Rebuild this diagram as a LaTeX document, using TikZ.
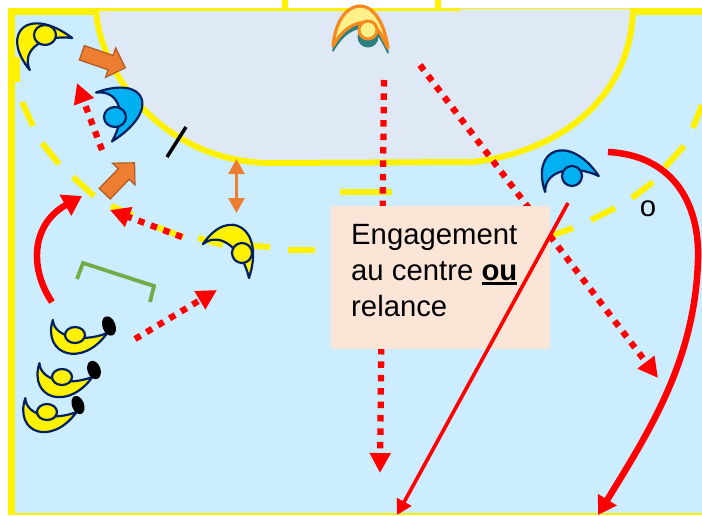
\documentclass[tikz,border=0pt]{standalone}
\usepackage{fontspec}
\setmainfont{Liberation Sans}
\usetikzlibrary{shapes,arrows.meta}
\definecolor{courtBlue}{HTML}{CCECFF}
\definecolor{areaBlue}{HTML}{DEE9F5}
\definecolor{navyLine}{HTML}{002060}
\definecolor{playerBlue}{HTML}{00B0F0}
\definecolor{keeperOrange}{HTML}{F58A1F}
\definecolor{keeperYellow}{HTML}{FFF08A}
\definecolor{keeperTeal}{HTML}{2A7F80}
\definecolor{moveOrange}{HTML}{ED7D31}
\definecolor{moveEdge}{HTML}{AE5A21}
\definecolor{boxPeach}{HTML}{FBE5D6}
\definecolor{markGreen}{HTML}{70AD47}
\tikzstyle{courtLine} = [draw=yellow, line width=6pt]
\tikzstyle{yellowPlayer} = [draw=navyLine, fill=yellow, line width=2.2pt, line join=round]
\tikzstyle{bluePlayer} = [draw=navyLine, fill=playerBlue, line width=2.2pt, line join=round]
\tikzstyle{keeperBody} = [draw=keeperOrange, fill=keeperYellow, line width=3.2pt, line join=round]
\tikzstyle{keeperShade} = [draw=keeperTeal, fill=keeperTeal, line width=1.5pt, line join=round]
\tikzstyle{ballMark} = [fill=black]
\tikzstyle{moveArrow} = [single arrow, draw=moveEdge, fill=moveOrange, line width=1.2pt, inner xsep=0pt, inner ysep=7pt, single arrow head extend=8pt]
\tikzstyle{passArrow} = [draw=red, line width=6.3pt, dash pattern=on 6.5pt off 6.9pt, -{Triangle[width=20pt,length=20pt]}]
\tikzstyle{runArrow} = [draw=red, line width=6.5pt, -{Triangle[width=23pt,length=19pt]}]
\tikzstyle{shotArrow} = [draw=red, line width=3.6pt, -{Triangle[width=16pt,length=15pt]}]
\tikzstyle{textNode} = [font=\fontsize{29.3}{36}\selectfont, text=black]
\newcommand{\player}[5]{
\draw[#1, #2] (-28,0) .. controls (-30,-46) and (12,-50) .. (28,0) .. controls (8,-18) and (-22,-22) .. (-28,0) -- cycle;
\draw[#1] #3 ellipse [x radius=#4pt, y radius=#5pt];
}
\newcommand{\keeper}[1]{
\draw[#1] (333,46) .. controls (336,16) and (350,6) .. (360,6) .. controls (375,6) and (385,26) .. (388,48) .. controls (382,36) and (378,27) .. (370,23) .. controls (355,20) and (342,30) .. (333,46) -- cycle;
}
\newcommand{\thickUnder}[1]{\leavevmode\vtop{\hbox{#1}\kern1.5pt\hrule height 3pt}}

\begin{document}
\begin{tikzpicture}[x=1pt, y=-1pt]
\useasboundingbox (0,0) rectangle (702,515);
\fill[courtBlue] (8,8) rectangle (702,515);
\filldraw[courtLine, fill=areaBlue] (96,8) .. controls (98,70) and (160,160) .. (267,163) -- (473,162) .. controls (570,150) and (632,90) .. (633,8);
\draw[courtLine, line width=7pt] (11.5,8) -- (11.5,515);
\draw[courtLine, line width=7pt] (8,11.5) -- (96,11.5);
\draw[courtLine, line width=7pt] (633,11.5) -- (702,11.5);
\draw[courtLine, line width=3pt] (96,9.5) -- (460,9.5);
\draw[courtLine, line width=1pt] (460,8.5) -- (633,8.5);
\draw[courtLine, line width=2.5pt] (8,514) -- (702,514);
\draw[courtLine] (284.5,0) -- (284.5,9);
\draw[courtLine] (438,0) -- (438,9);
\draw[courtLine] (17,57) -- (17,82);
\draw[courtLine] (340,192) -- (392,192);
\foreach \ax/\ay/\bx/\by in {22/102/33/126, 42/143/59/164, 73/177/94/196, 111/206/133/215, 157/227/183/237, 198/238/223/245, 243/245/270/247, 288/250/315/250, 553/235/573/228, 591/220/615/208, 632/198/653/182, 665/167/684/146, 693/128/702/105}
\draw[courtLine] (\ax,\ay) -- (\bx,\by);

\coordinate (keeperFrom) at (384,80);
\coordinate (keeperTo) at (380,473);
\coordinate (crossFrom) at (420,65);
\coordinate (crossTo) at (658,378);
\coordinate (queueFrom) at (135,339);
\coordinate (queueTo) at (217,290);
\coordinate (backFrom) at (182,237);
\coordinate (backTo) at (110,210);
\coordinate (wingFrom) at (102,150);
\coordinate (wingTo) at (77,83);
\coordinate (gapTop) at (236.5,159);
\coordinate (gapBottom) at (236.5,213);
\coordinate (curveFrom) at (52,302);
\coordinate (curveTo) at (82,196);
\coordinate (sweepFrom) at (608,152);
\coordinate (sweepMid) at (698,260);
\coordinate (sweepTo) at (598,515);
\coordinate (shotFrom) at (568,203);
\coordinate (shotTo) at (397,515);
\coordinate (tickTop) at (186,127);
\coordinate (tickBottom) at (167,157);

\draw[passArrow] (keeperFrom) -- (keeperTo);
\draw[passArrow] (crossFrom) -- (crossTo);

\node (centerBox) [textNode, fill=boxPeach, anchor=north west, text width=179pt, inner xsep=20pt, inner ysep=0pt, minimum height=143pt, align=flush left] at (331,206) {Engagement\\ au centre \thickUnder{\textbf{ou}}\\ relance\rule[-15pt]{0pt}{15pt}};
\node (sideMark) [textNode, inner sep=0pt] at (648,209) {o};

\keeper{keeperShade, yshift=-5pt}
\fill[keeperTeal] (368,37) circle [radius=10.5pt];
\keeper{keeperBody}
\draw[keeperBody, line width=3pt] (368,30) circle [radius=9pt];
\player{yellowPlayer}{shift={(51,54)},rotate=37,xscale=.95,yscale=1.05}{(45,35)}{11}{10}
\player{bluePlayer}{shift={(104,117)},rotate=-72,xscale=.92,yscale=1.15}{(115,117)}{11}{10}
\player{yellowPlayer}{shift={(226,261)},rotate=-36.5,xscale=1.02}{(242,253)}{10}{10}
\player{bluePlayer}{shift={(572,184)},rotate=16.5}{(572,176)}{10}{10}
\player{yellowPlayer}{shift={(80,326.5)},rotate=-13.5,yscale=-.8}{(75,335)}{10}{8}
\player{yellowPlayer}{shift={(66,370)},rotate=-14.5,xscale=.98,yscale=-.8}{(62,377)}{10}{8}
\player{yellowPlayer}{shift={(51,405)},rotate=-15,xscale=.95,yscale=-.8}{(47,412)}{10}{8}
\fill[ballMark, rotate around={20:(109,326)}] (109,326) ellipse [x radius=6.5pt, y radius=10pt];
\fill[ballMark, rotate around={20:(94,370)}] (94,370) ellipse [x radius=6.5pt, y radius=9.5pt];
\fill[ballMark, rotate around={20:(78,405)}] (78,405) ellipse [x radius=6pt, y radius=9.5pt];

\node (moveTop) [moveArrow, rotate=-19, minimum height=46pt] at (100,59) {};
\node (moveLow) [moveArrow, rotate=46, minimum height=43pt] at (117,181) {};

\draw[passArrow] (queueFrom) -- (queueTo);
\draw[passArrow] (backFrom) -- (backTo);
\draw[passArrow] (wingFrom) -- (wingTo);
\draw[draw=moveOrange, line width=2.8pt, {Triangle[width=16pt,length=15pt]}-{Triangle[width=16pt,length=15pt]}] (gapTop) -- (gapBottom);
\draw[runArrow] (curveFrom) .. controls (30,270) and (30,225) .. (curveTo);
\draw[runArrow, -{Triangle[width=21pt,length=18pt]}] (sweepFrom) .. controls (670,155) and (700,200) .. (sweepMid) .. controls (695,360) and (650,430) .. (sweepTo);
\draw[shotArrow] (shotFrom) -- (shotTo);
\draw[line width=3.5pt] (tickTop) -- (tickBottom);
\draw[draw=markGreen, line width=3.8pt] (77,279) -- (83,263) -- (154,286) -- (150,302);
\end{tikzpicture}
\end{document}
